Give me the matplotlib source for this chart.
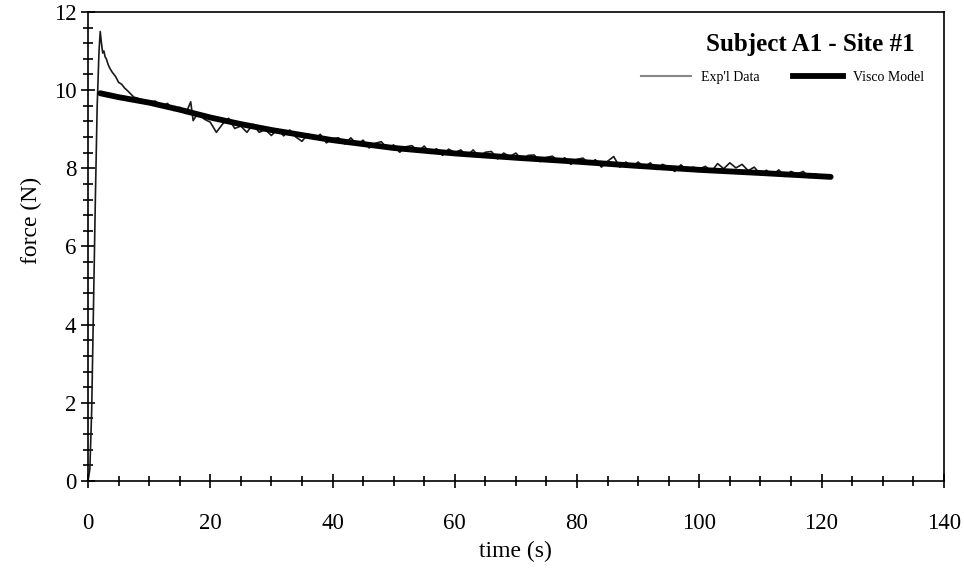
#!/usr/bin/env python3

import numpy as np
from matplotlib import pyplot as plt
from matplotlib.ticker import MultipleLocator
from matplotlib.lines import Line2D

exp_time = [0.0, 0.3, 0.6, 0.9, 1.2, 1.5, 1.8, 2.0, 2.2, 2.4, 2.6, 2.8, 3.0, 3.3, 3.6,
            4.0, 4.5, 5.0, 5.5, 6.0, 6.5, 7.0, 7.5, 8.0, 9.0, 10.0,
            11, 12, 13, 14, 15, 16, 16.8, 17.2, 18, 19, 20, 21, 22, 23, 24, 25,
            26, 27, 28, 29, 30, 31, 32, 33, 34, 35, 36, 37, 38, 39, 40, 41, 42,
            43, 44, 45, 46, 47, 48, 49, 50, 51, 52, 53, 54, 55, 56, 57, 58, 59,
            60, 61, 62, 63, 64, 65, 66, 67, 68, 69, 70, 71, 72, 73, 74, 75, 76,
            77, 78, 79, 80, 81, 82, 83, 84, 85, 86, 87, 88, 89, 90, 91, 92,
            93, 94, 95, 96, 97, 98, 99, 100, 101, 102, 103, 104, 105, 106, 107,
            108, 109, 110, 111, 112, 113, 114, 115, 116, 117, 118, 119, 120, 121, 121.5]
exp_force = [0.0, 0.3, 1.8, 4.5, 7.2, 9.6, 11.0, 11.5, 11.2, 10.95, 11.0, 10.85, 10.8, 10.65, 10.55,
             10.45, 10.35, 10.2, 10.15, 10.05, 9.98, 9.9, 9.82, 9.8, 9.74, 9.7,
             9.72, 9.58, 9.66, 9.48, 9.56, 9.4, 9.7, 9.22, 9.42, 9.26, 9.18, 8.92, 9.13, 9.28, 9.02, 9.08,
             8.92, 9.13, 8.92, 8.99, 8.84, 9.0, 8.83, 8.98, 8.8, 8.69, 8.88, 8.74, 8.87, 8.65, 8.76, 8.78, 8.62,
             8.78, 8.6, 8.72, 8.52, 8.64, 8.68, 8.49, 8.6, 8.41, 8.55, 8.58, 8.42, 8.57, 8.38, 8.5, 8.33, 8.49,
             8.4, 8.47, 8.31, 8.47, 8.3, 8.41, 8.43, 8.24, 8.39, 8.3, 8.39, 8.21, 8.33, 8.34, 8.17, 8.28, 8.31,
             8.16, 8.27, 8.1, 8.23, 8.26, 8.1, 8.22, 8.03, 8.18, 8.3, 8.03, 8.16, 8.03, 8.16, 8.03, 8.14,
             7.97, 8.1, 8.03, 7.92, 8.09, 7.94, 8.03, 7.98, 8.05, 7.92, 8.12, 7.99, 8.14, 8.01, 8.1,
             7.94, 8.03, 7.84, 7.95, 7.82, 7.96, 7.79, 7.92, 7.85, 7.92, 7.76, 7.86, 7.76, 7.83, 7.75]

# visco model fit
model_time = [2, 5, 10, 15, 20, 25, 30, 40, 50, 60, 70, 80, 90, 100, 110, 121.5]
model_force = [9.92, 9.82, 9.68, 9.5, 9.3, 9.13, 8.98, 8.72, 8.52, 8.38, 8.27, 8.17, 8.06, 7.96, 7.88, 7.78]

title_text = "Subject A1 - Site #1"
serif = ['Liberation Serif', 'DejaVu Serif']

fig = plt.figure(figsize=(9.64, 5.69), dpi=100)
ax = fig.add_axes([0.0913, 0.1547, 0.8877, 0.8243])

ax.plot(exp_time, exp_force, color='#1a1a1a', lw=1.2)
ax.plot(model_time, model_force, color='black', lw=4.2, solid_capstyle='round')

ax.set_xlim(0, 140)
ax.set_ylim(0, 12)
ax.xaxis.set_major_locator(MultipleLocator(20))
ax.xaxis.set_minor_locator(MultipleLocator(5))
ax.yaxis.set_major_locator(MultipleLocator(2))
ax.yaxis.set_minor_locator(MultipleLocator(0.4))
ax.tick_params(which='major', direction='inout', length=10, width=1.2, labelsize=16.5)
ax.tick_params(axis='x', which='major', pad=18)
ax.tick_params(which='minor', direction='inout', length=7, width=1.2)
for lbl in ax.get_xticklabels() + ax.get_yticklabels():
    lbl.set_family(serif)
for sp in ax.spines.values():
    sp.set_linewidth(1.2)

ax.set_xlabel('time (s)', family=serif, fontsize=17)
ax.set_ylabel('force (N)', family=serif, fontsize=17)
ax.xaxis.set_label_coords(0.499, -0.128)
ax.yaxis.set_label_coords(-0.054, 0.556)

ax.text(0.966, 0.930, title_text, transform=ax.transAxes, ha='right', va='center',
        family=serif, fontsize=18, fontweight='bold')
handles = [Line2D([], [], color='#888888', lw=1.5),
           Line2D([], [], color='black', lw=4.2)]
ax.legend(handles, ["Exp'l Data", 'Visco Model'], loc='center right',
          bbox_to_anchor=(0.985, 0.861), ncol=2, frameon=False, borderpad=0,
          prop={'family': serif, 'size': 10}, handlelength=3.6, columnspacing=2.4,
          handletextpad=0.7)

plt.savefig('out.png', dpi=100)
plt.close()
